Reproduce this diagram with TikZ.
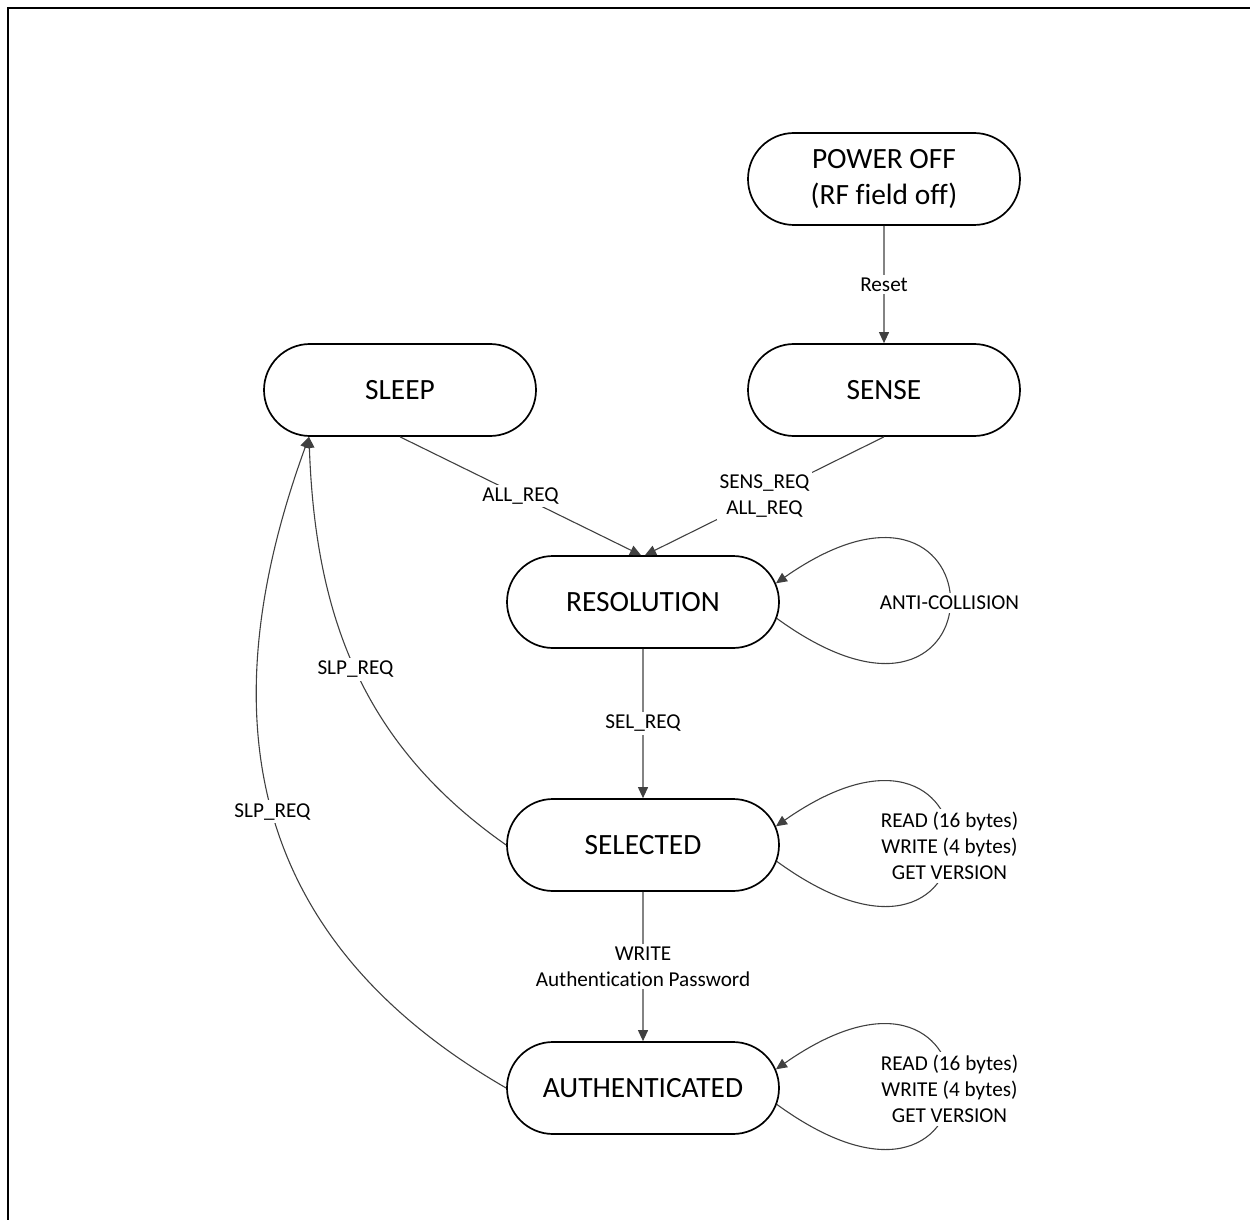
\documentclass[tikz,border=0pt]{standalone}
\usepackage{fontspec}
\setmainfont{Carlito}[Ligatures=NoCommon]
\usetikzlibrary{shapes.misc,arrows.meta}
\definecolor{edgecol}{HTML}{404040}
\begin{document}
\begin{tikzpicture}[x=0.5pt,y=0.5pt,
  state/.style={rounded rectangle, draw=black, line width=0.85pt, minimum width=136pt, minimum height=46pt, inner sep=0pt, align=center, font=\fontsize{14.7}{17.8}\selectfont},
  conn/.style={draw=edgecol, line width=0.55pt, -{Triangle[width=5pt,length=5.5pt]}},
  lbl/.style={fill=white, inner sep=1.5pt, align=center, font=\fontsize{10.6}{13}\selectfont, text=black}]
\useasboundingbox (0,0) rectangle (1250,-1220);
\draw[line width=1pt] (8,-1230) -- (8,-8) -- (1260,-8);

\node[state] (pwr) at (884,-179) {POWER OFF\\(RF field off)};
\node[state] (sense) at (884,-390) {SENSE};
\node[state] (sleep) at (400,-390) {SLEEP};
\node[state] (res) at (643,-602) {RESOLUTION};
\node[state] (sel) at (643,-845) {SELECTED};
\node[state] (auth) at (643,-1088) {AUTHENTICATED};

\draw[conn] (pwr) -- node[lbl]{Reset} (sense);
\draw[conn] (sleep.south) -- node[lbl]{ALL\_REQ} ([xshift=-1pt]res.north);
\draw[conn] (sense.south) -- node[lbl]{SENS\_REQ\\ALL\_REQ} ([xshift=1pt]res.north);
\draw[conn] (res) -- node[lbl]{SEL\_REQ} (sel);
\draw[conn] (sel) -- node[lbl]{WRITE\\Authentication Password} (auth);

\draw[conn] (res.-7) .. controls +(-36:285) and +(35:282) .. node[lbl]{ANTI-COLLISION} (res.8);
\draw[conn] (sel.-7) .. controls +(-36:285) and +(35:282) .. node[lbl]{READ (16 bytes)\\WRITE (4 bytes)\\GET VERSION} (sel.8);
\draw[conn] (auth.-7) .. controls +(-36:285) and +(35:282) .. node[lbl]{READ (16 bytes)\\WRITE (4 bytes)\\GET VERSION} (auth.8);

\draw[conn] (sel.west) to[out=145,in=-88] node[lbl]{SLP\_REQ} ([xshift=-45.5pt]sleep.south);
\draw[conn] (auth.west) to[out=150,in=-110,looseness=1.12] node[lbl]{SLP\_REQ} ([xshift=-45.5pt]sleep.south);
\end{tikzpicture}
\end{document}
